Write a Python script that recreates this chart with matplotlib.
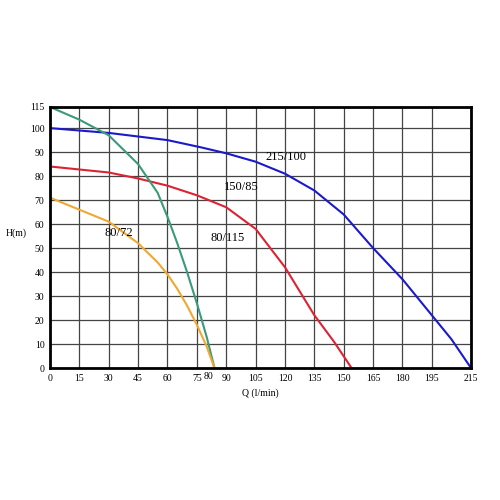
import matplotlib
matplotlib.use("Agg")
import matplotlib.pyplot as plt
import numpy as np

plt.rcParams['font.family'] = ['Liberation Serif', 'DejaVu Serif']

blue_q = [0, 30, 60, 77, 90, 105, 120, 135, 150, 165, 180, 195, 205, 215]
blue_h = [100, 98, 95, 92, 89.5, 86, 81, 74, 64, 50, 37, 22, 12, 0]
red_q = [0, 30, 45, 60, 75, 90, 105, 120, 135, 145, 154]
red_h = [84, 81.5, 79, 76, 72, 67, 58, 42, 22, 11, 0]
green_q = [0, 15, 30, 45, 55, 60, 65, 70, 75, 80, 84]
green_h = [115, 106, 97, 85, 73, 63, 52, 40, 27, 13, 0]
yellow_q = [0, 15, 30, 45, 55, 60, 65, 70, 75, 80, 84]
yellow_h = [71, 66, 61, 52, 44, 39, 33, 26, 18, 9, 0]
x_ticks = [0, 15, 30, 45, 60, 75, 90, 105, 120, 135, 150, 165, 180, 195, 215]
y_ticks = [0, 10, 20, 30, 40, 50, 60, 70, 80, 90, 100, 115]

def f(h):
    h = np.asarray(h, float)
    return np.where(h <= 100, h, 100 + (h - 100) * (8.8 / 15))

fig = plt.figure(figsize=(5, 5), dpi=100)
ax = fig.add_axes([0.1, 0.264, 0.842, 0.522])
ax.plot(blue_q, f(blue_h), color='#1a1acc', lw=1.5)
ax.plot(red_q, f(red_h), color='#dd2233', lw=1.5)
ax.plot(green_q, f(green_h), color='#3a9a7a', lw=1.5)
ax.plot(yellow_q, f(yellow_h), color='#f0a830', lw=1.5)
ax.set_xlim(0, 215)
ax.set_ylim(0, f(115))
ax.set_xticks(x_ticks)
ax.set_xticklabels([str(t) for t in x_ticks], fontsize=7)
ax.text(81, -1.5, '80', ha='center', va='top', fontsize=7)
ax.set_yticks(f(y_ticks))
ax.set_yticklabels([str(t) for t in y_ticks], fontsize=7)
ax.tick_params(length=0, pad=4)
ax.grid(True, color='#444444', lw=0.9)
for s in ax.spines.values():
    s.set_linewidth(2)
ax.set_xlabel('Q (l/min)', fontsize=7)
ax.set_ylabel('H(m)', fontsize=7, rotation=0, labelpad=10)
ax.text(110, 86.7, '215/100', fontsize=9)
ax.text(89, 74, '150/85', fontsize=9)
ax.text(82, 53, '80/115', fontsize=9)
ax.text(28, 55, '80/72', fontsize=9)
fig.savefig('out.png', dpi=100)
